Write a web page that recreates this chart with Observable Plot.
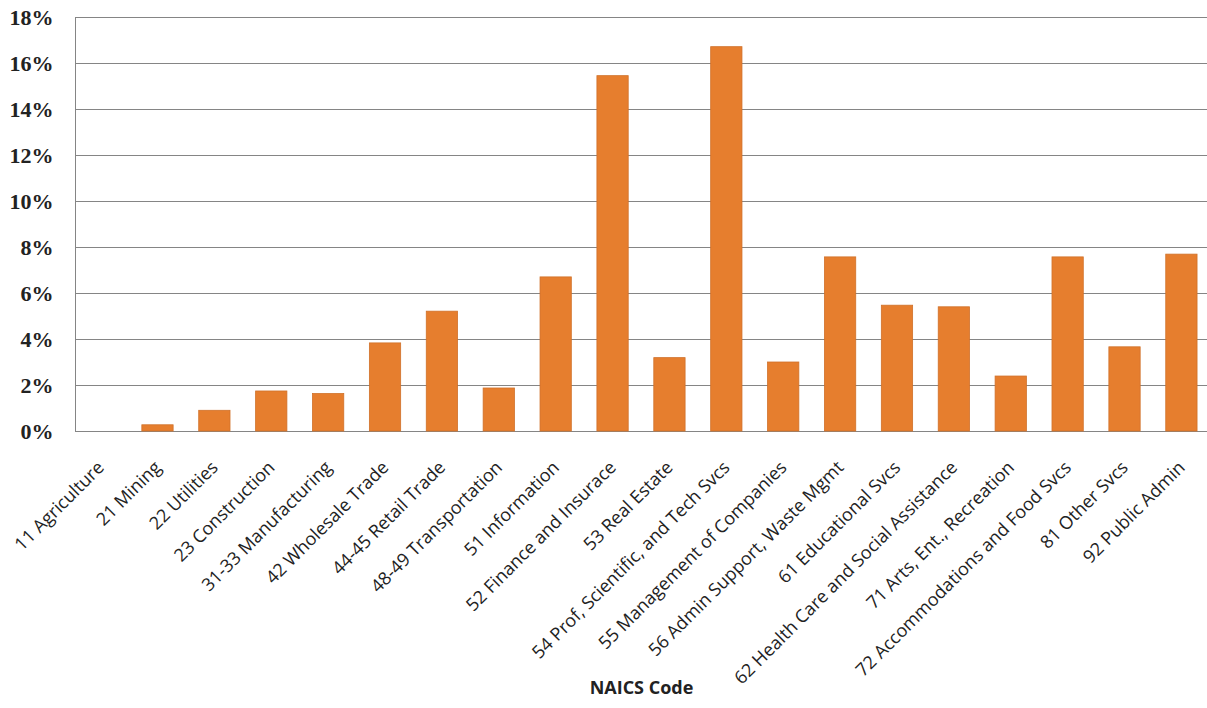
<!DOCTYPE html>
<html>
<head>
<meta charset="utf-8">
<script src="https://cdn.jsdelivr.net/npm/d3@7"></script>
<script src="https://cdn.jsdelivr.net/npm/@observablehq/plot@0.6"></script>
<style>
  html, body { margin: 0; padding: 0; background: #fff; }
  #chart svg { display: block; }
</style>
</head>
<body>
<div id="chart"></div>
<script>
const categories = [
  "11 Agriculture", "21 Mining", "22 Utilities", "23 Construction",
  "31-33 Manufacturing", "42 Wholesale Trade", "44-45 Retail Trade",
  "48-49 Transportation", "51 Information", "52 Finance and Insurace",
  "53 Real Estate", "54 Prof, Scientific, and Tech Svcs",
  "55 Management of Companies", "56 Admin Support, Waste Mgmt",
  "61 Educational Svcs", "62 Health Care and Social Assistance",
  "71 Arts, Ent., Recreation", "72 Accommodations and Food Svcs",
  "81 Other Svcs", "92 Public Admin"
];
const shares = [
  0.0, 0.27, 0.9, 1.74, 1.63, 3.83, 5.21, 1.87, 6.7, 15.45,
  3.19, 16.71, 3.0, 7.57, 5.47, 5.4, 2.39, 7.57, 3.66, 7.69
];
const yTicks = [0, 2, 4, 6, 8, 10, 12, 14, 16, 18];
const xTitle = "NAICS Code";

const data = categories.map((name, i) => ({name, value: shares[i]}));

const chart = Plot.plot({
  width: 1207,
  height: 708,
  marginTop: 17,
  marginBottom: 277,
  marginLeft: 75,
  marginRight: 0,
  style: {fontFamily: "'Open Sans', sans-serif", color: "#000", background: "#fff"},
  x: {type: "band", domain: categories, paddingInner: 0.45, paddingOuter: 0.175, round: false},
  y: {domain: [0, 18]},
  marks: [
    Plot.ruleY(yTicks, {stroke: "#858585", strokeWidth: 1}),
    Plot.frame({anchor: "left", stroke: "#858585"}),
    Plot.barY(data, {x: "name", y: "value", fill: "#E67E2E", stroke: "#D0712A", strokeWidth: 0.8}),
    Plot.axisY({ticks: yTicks, tickFormat: d => d + "%", tickSize: 0, tickPadding: 22, fontSize: 22,
                fontFamily: "'Liberation Serif', serif", fontWeight: "bold", fill: "#222", label: null}),
    Plot.axisX({tickSize: 0, tickRotate: -45, tickPadding: 33, dx: 0, fontSize: 18, fill: "#222", label: null}),
    Plot.text([xTitle], {frameAnchor: "bottom", dy: 262, fontSize: 18, fontWeight: "bold", fill: "#222", text: d => d})
  ]
});
document.getElementById("chart").appendChild(chart);
</script>
</body>
</html>
